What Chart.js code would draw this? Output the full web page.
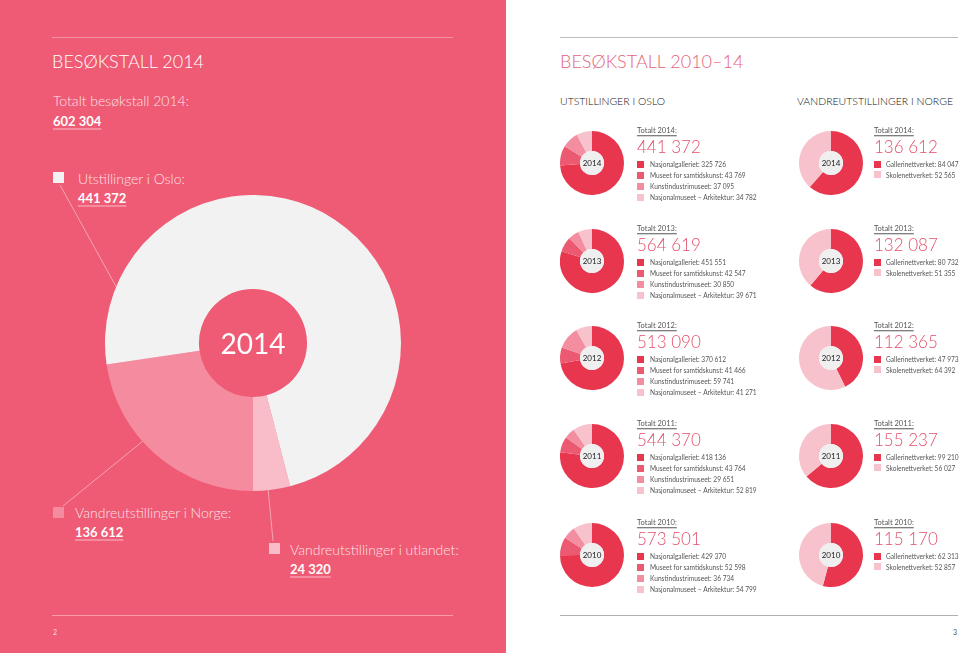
<!DOCTYPE html>
<html>
<head>
<meta charset="utf-8">
<script src="https://cdn.jsdelivr.net/npm/chart.js@4.4.1/dist/chart.umd.min.js"></script>
<style>
  html, body { margin:0; padding:0; width:960px; height:653px; overflow:hidden; background:#fff; font-family: Lato, "Open Sans", "DejaVu Sans", sans-serif; }
  #left { position:absolute; left:0; top:0; width:506px; height:653px; background:#EF5A74; }
  .t { position:absolute; white-space:nowrap; line-height:1; transform:translateY(-50%); }
  .sq { position:absolute; }
  .hole { position:absolute; border-radius:50%; background:#EFEFEF; display:flex; align-items:center; justify-content:center; font-size:8px; font-weight:400; color:#222; }
  canvas { position:absolute; }
  .hr { position:absolute; height:1px; }
</style>
</head>
<body>
<div id="left"></div>
<svg id="lines" width="506" height="653" style="position:absolute;left:0;top:0">
  <line x1="60" y1="185" x2="118" y2="290" stroke="rgba(255,255,255,0.45)" stroke-width="1"/>
  <line x1="63" y1="506" x2="143" y2="441" stroke="rgba(255,255,255,0.45)" stroke-width="1"/>
  <line x1="273" y1="541" x2="268" y2="488" stroke="rgba(255,255,255,0.45)" stroke-width="1"/>
</svg>
<div id="root"></div>
<script>
// ---------- DATA ----------
const years = [2014, 2013, 2012, 2011, 2010];
const osloTotals = [441372, 564619, 513090, 544370, 573501];
const nasjonalgalleriet = [325726, 451551, 370612, 418136, 429370];
const museetSamtidskunst = [43769, 42547, 41466, 43764, 52598];
const kunstindustrimuseet = [37095, 30850, 59741, 29651, 36734];
const arkitektur = [34782, 39671, 41271, 52819, 54799];
const norgeTotals = [136612, 132087, 112365, 155237, 115170];
const gallerinettverket = [84047, 80732, 47973, 99210, 62313];
const skolenettverket = [52565, 51355, 64392, 56027, 52857];
const osloNames = ['Nasjonalgalleriet', 'Museet for samtidskunst', 'Kunstindustrimuseet', 'Nasjonalmuseet – Arkitektur'];
const norgeNames = ['Gallerinettverket', 'Skolenettverket'];
const overviewLabels = ['Utstillinger i Oslo', 'Vandreutstillinger i Norge', 'Vandreutstillinger i utlandet'];
const overviewValues = [441372, 136612, 24320];
const overviewTotal = 602304;

// ---------- STYLE ----------
const osloColors = ['#E8364F', '#EC5A72', '#F28EA0', '#F8C2CC'];
const norgeColors = ['#E8364F', '#F8C2CC'];
const overviewColors = ['#F2F2F2', '#F48B9F', '#F8BDC8'];

const fmt = v => String(v).replace(/\B(?=(\d{3})+(?!\d))/g, ' ');
const root = document.getElementById('root');
function txt(x, cy, s, css) {
  const d = document.createElement('div');
  d.className = 't';
  d.style.left = x + 'px';
  d.style.top = cy + 'px';
  d.textContent = s;
  Object.assign(d.style, css || {});
  root.appendChild(d);
  return d;
}
function box(x, y, w, h, color, cls) {
  const d = document.createElement('div');
  d.className = cls || 'sq';
  Object.assign(d.style, { left: x + 'px', top: y + 'px', width: w + 'px', height: h + 'px', background: color });
  root.appendChild(d);
  return d;
}
function canvasAt(cx, cy, r) {
  const c = document.createElement('canvas');
  c.width = 2 * r; c.height = 2 * r;
  c.style.left = (cx - r) + 'px'; c.style.top = (cy - r) + 'px';
  c.style.width = 2 * r + 'px'; c.style.height = 2 * r + 'px';
  root.appendChild(c);
  return c;
}
function doughnut(canvas, labels, values, colors, cutout, rotation) {
  return new Chart(canvas, {
    type: 'doughnut',
    data: { labels, datasets: [{ data: values, backgroundColor: colors, borderWidth: 0, hoverOffset: 0 }] },
    options: {
      responsive: false, animation: false, events: [],
      cutout, rotation: rotation || 0,
      layout: { padding: 0 },
      plugins: { legend: { display: false }, tooltip: { enabled: false } }
    }
  });
}

// ---------- rules ----------
box(52, 37, 401, 1, 'rgba(255,255,255,0.35)', 'hr');
box(52, 615, 401, 1, 'rgba(255,160,175,0.9)', 'hr');
box(560, 37, 398, 1, '#BDBDBD', 'hr');
box(560, 615, 398, 1, '#B0B0B0', 'hr');
txt(53, 632, '2', { fontSize: '7px', color: 'rgba(255,255,255,0.8)' });
txt(953, 632, '3', { fontSize: '7px', color: '#555' });

// ---------- LEFT PAGE ----------
const white = '#FFFFFF';
const labelCss = { fontSize: '14px', fontWeight: 300, color: '#FCE3E8' };
const numCss = { fontSize: '13px', fontWeight: 700, color: white, textDecoration: 'underline', textDecorationThickness: '1px', textUnderlineOffset: '3px', textDecorationColor: 'rgba(255,255,255,0.6)' };
txt(52, 61, 'BESØKSTALL 2014', { fontSize: '18px', fontWeight: 300, color: white });
txt(53, 101, 'Totalt besøkstall 2014:', labelCss);
txt(53, 121, fmt(overviewTotal), numCss);

box(53, 172, 11, 11, overviewColors[0]);
txt(78, 179, overviewLabels[0] + ':', labelCss);
txt(78, 198, fmt(overviewValues[0]), numCss);

box(53, 507, 11, 11, overviewColors[1]);
txt(75, 513, overviewLabels[1] + ':', labelCss);
txt(75, 532, fmt(overviewValues[1]), numCss);

box(269, 543, 11, 11, overviewColors[2]);
txt(290, 550, overviewLabels[2] + ':', labelCss);
txt(290, 569, fmt(overviewValues[2]), numCss);

// big doughnut: clockwise order Oslo -> utlandet -> Norge, Norge starting at 6 o'clock
const bigOrder = [2, 1, 0];
const bigRot = 180 - 360 * overviewValues[2] / overviewTotal;
doughnut(canvasAt(253, 343, 148), bigOrder.map(i => overviewLabels[i]), bigOrder.map(i => overviewValues[i]), bigOrder.map(i => overviewColors[i]), '36.5%', bigRot);
txt(253, 343, String(years[0]), { fontSize: '28px', fontWeight: 400, color: white, transform: 'translate(-50%,-50%)' });

// ---------- RIGHT PAGE ----------
const pink = '#E4506A';
txt(560, 61, 'BESØKSTALL 2010–14', { fontSize: '18px', fontWeight: 300, color: '#E3647C' });
txt(560, 101, 'UTSTILLINGER I OSLO', { fontSize: '10.5px', fontWeight: 300, color: '#111' });
txt(797, 101, 'VANDREUTSTILLINGER I NORGE', { fontSize: '10.5px', fontWeight: 300, color: '#111' });

const rowY = [163, 261, 358, 456, 555];
const smallR = 32, holeR = 12;
const legCss = { fontSize: '6.6px', color: '#555' };
years.forEach((yr, i) => {
  const cy = rowY[i];
  // Oslo
  const oVals = [nasjonalgalleriet[i], museetSamtidskunst[i], kunstindustrimuseet[i], arkitektur[i]];
  doughnut(canvasAt(592, cy, smallR), osloNames, oVals, osloColors, '37.5%');
  const h1 = box(592 - holeR, cy - holeR, 2 * holeR, 2 * holeR, '#EFEFEF', 'hole'); h1.textContent = yr;
  txt(637, cy - 32, 'Totalt ' + yr + ':', { fontSize: '7.5px', color: '#555', textDecoration: 'underline', textUnderlineOffset: '1.5px' });
  txt(637, cy - 17, fmt(osloTotals[i]), { fontSize: '17px', fontWeight: 300, color: pink });
  oVals.forEach((v, k) => {
    box(637, cy + 1 + 11 * k - 3.5, 7, 7, osloColors[k]);
    txt(650, cy + 1 + 11 * k, osloNames[k] + ': ' + fmt(v), legCss);
  });
  // Norge
  const nVals = [gallerinettverket[i], skolenettverket[i]];
  doughnut(canvasAt(831, cy, smallR), norgeNames, nVals, norgeColors, '37.5%');
  const h2 = box(831 - holeR, cy - holeR, 2 * holeR, 2 * holeR, '#EFEFEF', 'hole'); h2.textContent = yr;
  txt(874, cy - 32, 'Totalt ' + yr + ':', { fontSize: '7.5px', color: '#555', textDecoration: 'underline', textUnderlineOffset: '1.5px' });
  txt(874, cy - 17, fmt(norgeTotals[i]), { fontSize: '17px', fontWeight: 300, color: pink });
  nVals.forEach((v, k) => {
    box(874, cy + 1 + 10.5 * k - 3.5, 7, 7, norgeColors[k]);
    txt(886, cy + 1 + 10.5 * k, norgeNames[k] + ': ' + fmt(v), legCss);
  });
});
</script>
</body>
</html>
